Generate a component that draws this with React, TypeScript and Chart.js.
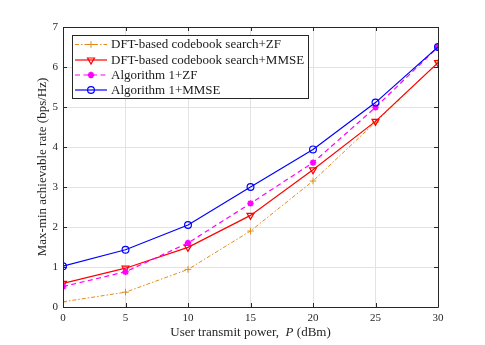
import { useEffect, useRef } from 'react';
import { Chart, registerables } from 'chart.js';

Chart.register(...registerables);

const powerDbm = [0, 5, 10, 15, 20, 25, 30];
const dftZF = [0.13, 0.37, 0.94, 1.9, 3.15, 4.62, 6.11];
const dftMMSE = [0.59, 0.97, 1.49, 2.29, 3.43, 4.64, 6.11];
const algZF = [0.51, 0.88, 1.6, 2.59, 3.61, 4.99, 6.5];
const algMMSE = [1.02, 1.43, 2.05, 3.0, 3.94, 5.11, 6.5];
const seriesLabels = [
  'DFT-based codebook search+ZF',
  'DFT-based codebook search+MMSE',
  'Algorithm 1+ZF',
  'Algorithm 1+MMSE',
];
const xTickValues = [0, 5, 10, 15, 20, 25, 30];
const yTickValues = [0, 1, 2, 3, 4, 5, 6, 7];
const xTitleParts = ['User transmit power,  ', 'P', ' (dBm)'];
const yTitle = 'Max-min achievable rate (bps/Hz)';

const SERIF = '"Liberation Serif", "Times New Roman", serif';
const AXIS_COLOR = '#262626';

function drawMarker(ctx: CanvasRenderingContext2D, ds: any, x: number, y: number) {
  const r = ds.pointRadius;
  ctx.strokeStyle = ds.pointBorderColor;
  ctx.fillStyle = ds.pointBackgroundColor;
  ctx.lineWidth = ds.pointBorderWidth;
  ctx.beginPath();
  switch (ds.pointStyle) {
    case 'cross':
      ctx.moveTo(x - r, y);
      ctx.lineTo(x + r, y);
      ctx.moveTo(x, y - r);
      ctx.lineTo(x, y + r);
      ctx.stroke();
      break;
    case 'triangle': {
      const h = r * 1.5;
      ctx.moveTo(x - r * 0.87, y - r * 0.5);
      ctx.lineTo(x + r * 0.87, y - r * 0.5);
      ctx.lineTo(x, y + r);
      ctx.closePath();
      ctx.stroke();
      void h;
      break;
    }
    case 'star':
      for (let k = 0; k < 4; k++) {
        const ang = (k * Math.PI) / 4;
        ctx.moveTo(x - r * Math.cos(ang), y - r * Math.sin(ang));
        ctx.lineTo(x + r * Math.cos(ang), y + r * Math.sin(ang));
      }
      ctx.stroke();
      break;
    default:
      ctx.arc(x, y, r, 0, Math.PI * 2);
      ctx.stroke();
  }
}

const framePlugin = {
  id: 'matlabFrame',
  afterDatasetsDraw(chart: any) {
    const { ctx, chartArea: a, scales } = chart;
    ctx.save();
    ctx.strokeStyle = AXIS_COLOR;
    ctx.lineWidth = 1;
    ctx.beginPath();
    ctx.moveTo(a.left + 0.5, a.top + 0.5);
    ctx.lineTo(a.right + 0.5, a.top + 0.5);
    ctx.lineTo(a.right + 0.5, a.bottom + 0.5);
    ctx.lineTo(a.left + 0.5, a.bottom + 0.5);
    ctx.closePath();
    ctx.stroke();
    const tl = 4;
    ctx.beginPath();
    xTickValues.forEach((v) => {
      const x = Math.round(scales.x.getPixelForValue(v)) + 0.5;
      ctx.moveTo(x, a.bottom);
      ctx.lineTo(x, a.bottom - tl);
      ctx.moveTo(x, a.top);
      ctx.lineTo(x, a.top + tl);
    });
    yTickValues.forEach((v) => {
      const y = Math.round(scales.y.getPixelForValue(v)) + 0.5;
      ctx.moveTo(a.left, y);
      ctx.lineTo(a.left + tl, y);
      ctx.moveTo(a.right, y);
      ctx.lineTo(a.right - tl, y);
    });
    ctx.stroke();

    // legend
    const lx = 72, ly = 35, lw = 236, lh = 63;
    ctx.fillStyle = '#ffffff';
    ctx.fillRect(lx, ly, lw, lh);
    ctx.strokeStyle = AXIS_COLOR;
    ctx.lineWidth = 1;
    ctx.strokeRect(lx + 0.5, ly + 0.5, lw, lh);
    const rowYs = [44.5, 60, 75, 90];
    chart.data.datasets.forEach((ds: any, i: number) => {
      const y = rowYs[i];
      ctx.save();
      ctx.strokeStyle = ds.borderColor;
      ctx.lineWidth = ds.borderWidth;
      ctx.setLineDash(ds.borderDash || []);
      ctx.beginPath();
      ctx.moveTo(75, y);
      ctx.lineTo(107, y);
      ctx.stroke();
      ctx.setLineDash([]);
      drawMarker(ctx, ds, 91, y);
      ctx.restore();
      ctx.fillStyle = '#1a1a1a';
      ctx.font = `13px ${SERIF}`;
      ctx.textBaseline = 'middle';
      ctx.textAlign = 'left';
      ctx.fillText(seriesLabels[i], 111, y + 0.5);
    });

    // x title with italic P
    ctx.fillStyle = '#262626';
    ctx.textBaseline = 'middle';
    ctx.textAlign = 'left';
    const fonts = [`13px ${SERIF}`, `italic 13px ${SERIF}`, `13px ${SERIF}`];
    let total = 0;
    const widths = xTitleParts.map((t, i) => {
      ctx.font = fonts[i];
      const w = ctx.measureText(t).width;
      total += w;
      return w;
    });
    let x = (a.left + a.right) / 2 - total / 2;
    xTitleParts.forEach((t, i) => {
      ctx.font = fonts[i];
      ctx.fillText(t, x, 333);
      x += widths[i];
    });
    ctx.restore();
  },
};

export default function App() {
  const ref = useRef<HTMLCanvasElement>(null);
  useEffect(() => {
    document.body.style.margin = '0';
    const mk = (v: number[]) => powerDbm.map((p, i) => ({ x: p, y: v[i] }));
    const chart = new Chart(ref.current!, {
      type: 'line',
      data: {
        datasets: [
          {
            label: seriesLabels[0],
            data: mk(dftZF),
            borderColor: '#e38b1c',
            borderWidth: 1,
            borderDash: [4, 2, 1.5, 2],
            pointStyle: 'cross',
            pointRadius: 3.3,
            pointBorderColor: '#e38b1c',
            pointBackgroundColor: '#e38b1c',
            pointBorderWidth: 1,
            order: 4,
          },
          {
            label: seriesLabels[1],
            data: mk(dftMMSE),
            borderColor: '#ff0000',
            borderWidth: 1.2,
            pointStyle: 'triangle',
            rotation: 180,
            pointRadius: 4,
            pointBorderColor: '#ff0000',
            pointBackgroundColor: 'rgba(255,255,255,0)',
            pointBorderWidth: 1.2,
            order: 3,
          },
          {
            label: seriesLabels[2],
            data: mk(algZF),
            borderColor: '#ff00ff',
            borderWidth: 1.2,
            borderDash: [5, 3.5],
            pointStyle: 'star',
            pointRadius: 3.2,
            pointBorderColor: '#ff00ff',
            pointBackgroundColor: '#ff00ff',
            pointBorderWidth: 1.8,
            order: 2,
          },
          {
            label: seriesLabels[3],
            data: mk(algMMSE),
            borderColor: '#0000ff',
            borderWidth: 1.2,
            pointStyle: 'circle',
            pointRadius: 3.4,
            pointBorderColor: '#0000ff',
            pointBackgroundColor: 'rgba(255,255,255,0)',
            pointBorderWidth: 1.2,
            order: 1,
          },
        ] as any,
      },
      options: {
        animation: false,
        responsive: false,
        events: [],
        layout: { padding: { left: 0, top: 27, right: 47, bottom: 0 } },
        plugins: { legend: { display: false }, tooltip: { enabled: false } },
        elements: { line: { tension: 0 } },
        scales: {
          x: {
            type: 'linear',
            min: 0,
            max: 30,
            afterFit: (s: any) => {
              s.height = 38;
            },
            afterBuildTicks: (s: any) => {
              s.ticks = xTickValues.map((v) => ({ value: v }));
            },
            grid: { color: '#e3e3e3', drawTicks: false, lineWidth: 1 },
            border: { display: false },
            ticks: {
              padding: 5,
              color: '#262626',
              font: { family: SERIF, size: 11 },
              maxRotation: 0,
            },
          },
          y: {
            type: 'linear',
            min: 0,
            max: 7,
            afterFit: (s: any) => {
              s.width = 63;
            },
            afterBuildTicks: (s: any) => {
              s.ticks = yTickValues.map((v) => ({ value: v }));
            },
            grid: { color: '#e3e3e3', drawTicks: false, lineWidth: 1 },
            border: { display: false },
            ticks: {
              padding: 5,
              color: '#262626',
              font: { family: SERIF, size: 11 },
            },
            title: {
              display: true,
              text: yTitle,
              color: '#262626',
              font: { family: SERIF, size: 13 },
              padding: { top: 35, bottom: 0 },
            },
          },
        },
      },
      plugins: [framePlugin],
    });
    return () => chart.destroy();
  }, []);
  return <canvas ref={ref} width={485} height={345} style={{ display: 'block' }} />;
}
